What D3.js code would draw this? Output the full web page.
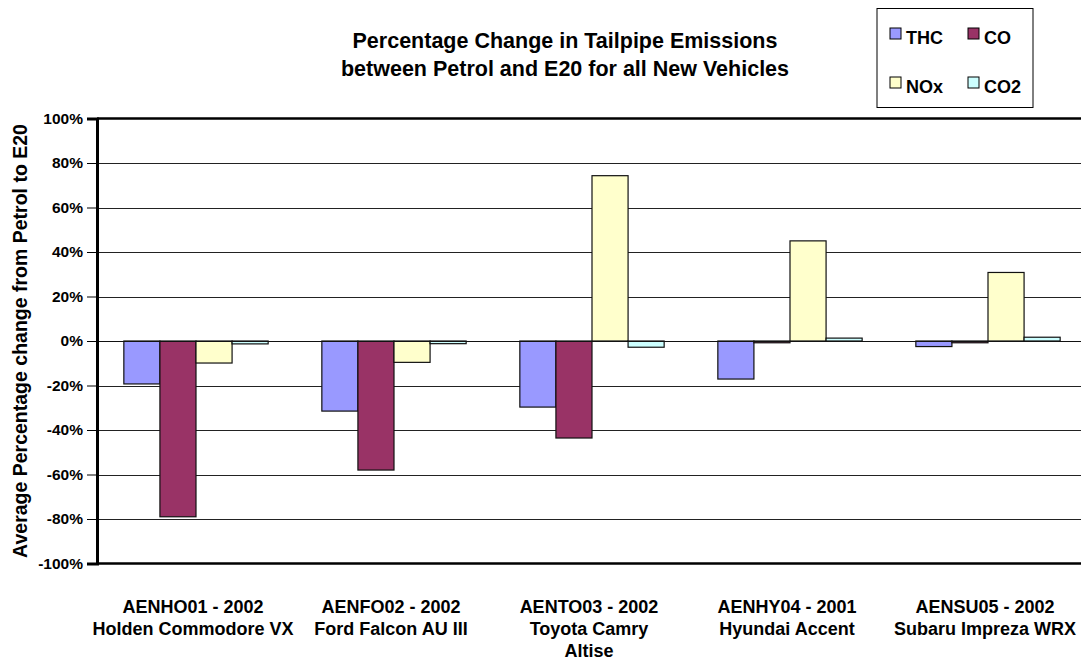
<!DOCTYPE html>
<html>
<head>
<meta charset="utf-8">
<script src="https://cdn.jsdelivr.net/npm/d3@7"></script>
<style>
  html, body { margin: 0; padding: 0; background: #fff; }
  svg { display: block; font-family: "Liberation Sans", Arial, sans-serif; font-weight: bold; }
</style>
</head>
<body>
<svg id="chart" width="1081" height="661"></svg>
<script>
// ---- data ----
const categoryCodes = ["AENHO01 - 2002", "AENFO02 - 2002", "AENTO03 - 2002", "AENHY04 - 2001", "AENSU05 - 2002"];
const categoryNames = [["Holden Commodore VX"], ["Ford Falcon AU III"], ["Toyota Camry", "Altise"], ["Hyundai Accent"], ["Subaru Impreza WRX"]];
const seriesNames = ["THC", "CO", "NOx", "CO2"];
const seriesColors = ["#9999FF", "#993366", "#FFFFCC", "#CCFFFF"];
const thcValues = [-19.3, -31.5, -29.7, -17.1, -2.5];
const coValues  = [-79.0, -58.0, -43.6, -0.8, -0.8];
const noxValues = [-9.9, -9.6, 74.3, 45.0, 30.8];
const co2Values = [-1.3, -1.2, -2.8, 1.3, 1.7];
const yTickValues = [-100, -80, -60, -40, -20, 0, 20, 40, 60, 80, 100];
const titleLines = ["Percentage Change in Tailpipe Emissions", "between Petrol and E20 for all New Vehicles"];
const yAxisTitle = "Average Percentage change from Petrol to E20";

const seriesValues = [thcValues, coValues, noxValues, co2Values];
const rows = categoryCodes.map((c, i) => ({
  cat: c,
  values: seriesNames.map((s, j) => ({ key: s, value: seriesValues[j][i] }))
}));

// ---- layout ----
const svg = d3.select("#chart");
const plot = { left: 97, right: 1087, top: 118.5, bottom: 563.5 };

const x0 = d3.scaleBand().domain(categoryCodes).range([plot.left, plot.right]).paddingInner(0).paddingOuter(0);
const x1 = d3.scaleBand().domain(seriesNames).range([0, x0.bandwidth()]).paddingInner(0).paddingOuter(0.744);
const y = d3.scaleLinear().domain([-100, 100]).range([plot.bottom, plot.top]);
const color = d3.scaleOrdinal().domain(seriesNames).range(seriesColors);

// gridlines
svg.append("g").selectAll("line")
  .data(yTickValues.filter(v => v > -100 && v < 100))
  .join("line")
  .attr("x1", plot.left).attr("x2", plot.right)
  .attr("y1", d => Math.round(y(d)) + 0.5).attr("y2", d => Math.round(y(d)) + 0.5)
  .attr("stroke", "#222").attr("stroke-width", 1);

// bars
const groups = svg.append("g").selectAll("g")
  .data(rows).join("g")
  .attr("transform", d => `translate(${x0(d.cat)},0)`);
groups.selectAll("rect")
  .data(d => d.values).join("rect")
  .attr("x", d => x1(d.key))
  .attr("width", x1.bandwidth())
  .attr("y", d => y(Math.max(0, d.value)))
  .attr("height", d => Math.abs(y(d.value) - y(0)))
  .attr("fill", d => color(d.key))
  .attr("stroke", "#111").attr("stroke-width", 1.2);

// zero line above bars
svg.append("line")
  .attr("x1", plot.left).attr("x2", plot.right)
  .attr("y1", Math.round(y(0)) + 0.5).attr("y2", Math.round(y(0)) + 0.5)
  .attr("stroke", "#111").attr("stroke-width", 1);

// frame top/bottom
svg.append("line").attr("x1", plot.left).attr("x2", plot.right)
  .attr("y1", y(100)).attr("y2", y(100)).attr("stroke", "#000").attr("stroke-width", 2.5);
svg.append("line").attr("x1", plot.left).attr("x2", plot.right)
  .attr("y1", y(-100)).attr("y2", y(-100)).attr("stroke", "#000").attr("stroke-width", 2.5);

// y axis
const yAxis = d3.axisLeft(y).tickValues(yTickValues).tickSize(10).tickPadding(4).tickFormat(d => d + "%");
const ya = svg.append("g").attr("transform", `translate(${plot.left},0)`).call(yAxis);
ya.select(".domain").attr("stroke", "#000").attr("stroke-width", 3);
ya.selectAll(".tick line").attr("stroke", "#000").attr("stroke-width", 1);
ya.selectAll(".tick text").attr("font-size", "15.5px").attr("font-weight", "bold")
  .attr("font-family", "'Liberation Sans', Arial, sans-serif").attr("fill", "#000");

// y axis title
svg.append("text")
  .attr("transform", `translate(27,${(plot.top + plot.bottom) / 2}) rotate(-90)`)
  .attr("text-anchor", "middle")
  .attr("font-size", "19.5px")
  .text(yAxisTitle);

// x labels
const xl = svg.append("g").selectAll("text")
  .data(rows.map((r, i) => ({ cat: r.cat, lines: [r.cat].concat(categoryNames[i]) })))
  .join("text")
  .attr("text-anchor", "middle")
  .attr("font-size", "18px")
  .attr("transform", d => `translate(${x0(d.cat) + x0.bandwidth() / 2 - 3},613)`);
xl.selectAll("tspan").data(d => d.lines).join("tspan")
  .attr("x", 0).attr("y", (d, i) => i * 22)
  .text(d => d);

// title
svg.append("g").selectAll("text").data(titleLines).join("text")
  .attr("x", 565).attr("y", (d, i) => 48 + i * 28)
  .attr("text-anchor", "middle")
  .attr("font-size", "21.5px")
  .text(d => d);

// legend
const leg = svg.append("g");
leg.append("rect").attr("x", 877).attr("y", 8.5).attr("width", 156).attr("height", 99)
  .attr("fill", "#fff").attr("stroke", "#000").attr("stroke-width", 1);
const legPos = [[890, 28], [968, 28], [890, 77], [968, 77]];
const li = leg.selectAll("g.item").data(seriesNames).join("g")
  .attr("transform", (d, i) => `translate(${legPos[i][0]},${legPos[i][1]})`);
li.append("rect").attr("width", 11).attr("height", 11)
  .attr("fill", d => color(d)).attr("stroke", "#000").attr("stroke-width", 1);
li.append("text").attr("x", 16).attr("y", 15.5).attr("font-size", "18px").text(d => d);
</script>
</body>
</html>
